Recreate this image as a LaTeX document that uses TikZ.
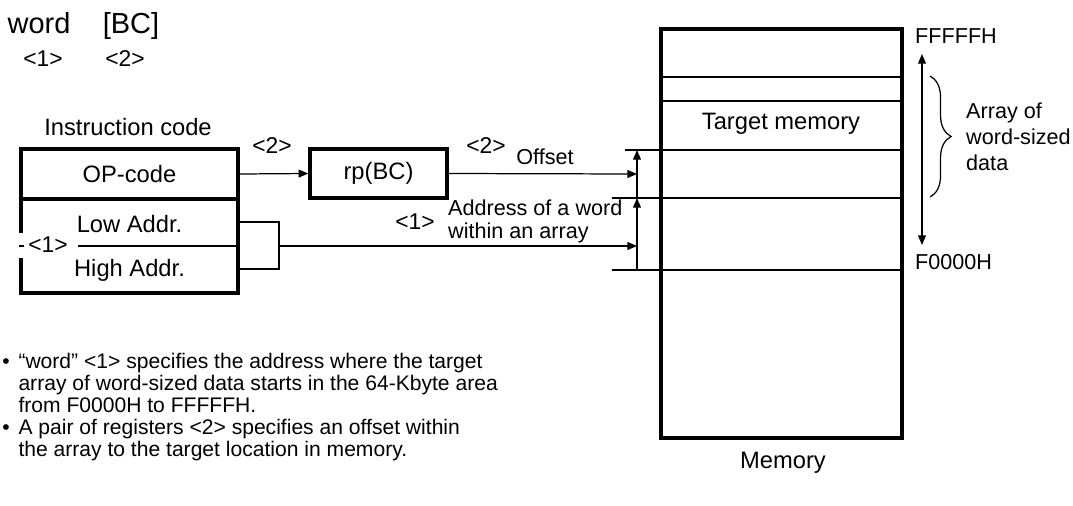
\documentclass[tikz,border=0pt]{standalone}
\usepackage{fontspec}
\setmainfont{Liberation Sans}
\usepackage{tikz}
\usetikzlibrary{arrows.meta,calc,decorations.pathreplacing}

\begin{document}
\begin{tikzpicture}[x=0.02cm,y=-0.02cm,>={Triangle[length=5.5pt,width=4.5pt]},
    bigfont/.style={font=\fontsize{16.5}{18}\selectfont},
    boxfont/.style={font=\fontsize{13.5}{15}\selectfont},
    tagfont/.style={font=\fontsize{13}{14}\selectfont},
    labfont/.style={font=\fontsize{12.3}{13.2}\selectfont},
    field/.style={draw,line width=2pt,minimum width=4.34cm,inner sep=0pt,boxfont},
    wire/.style={line width=0.7pt},
    rowline/.style={line width=1.2pt},
    boldrow/.style={line width=1.6pt}]
  \useasboundingbox (0,0) rectangle (1073,505);

  \node[bigfont,anchor=base] (word) at (39,33) {word};
  \node[bigfont,anchor=base] (bc) at (131,33) {[BC]};
  \node[tagfont] (tagw) at (43,59) {<1>};
  \node[tagfont] (tagbc) at (125,59) {<2>};

  \node[boxfont] (title) at (128,127) {Instruction code};
  \node[field,minimum height=1cm] (opcode) at (129.5,174) {OP-code};
  \node[field,minimum height=1.88cm] (addr) at (129.5,246) {};
  \node[boxfont] (low) at (129.5,224) {Low Addr.};
  \node[boxfont] (high) at (129.5,270) {High Addr.};
  \draw[rowline] (addr.west) -- (addr.east);
  \node[tagfont,fill=white,inner sep=0pt,minimum width=1.2cm,minimum height=0.5cm] (tag1) at (48,245) {<1>};
  \draw[rowline] (addr.west) -- ++(5,0);

  \node[field,minimum width=2.74cm,minimum height=0.98cm] (rp) at (378.5,173.5) {rp(BC)};
  \node[tagfont] (tag2a) at (272,146) {<2>};
  \draw[wire,->] (opcode.east) -- (rp.west);

  \node[draw,line width=2pt,minimum width=4.82cm,minimum height=8.18cm,inner sep=0pt] (mem) at (781.5,233.5) {};
  \node[boxfont] (memlbl) at (783,463) {Memory};
  \foreach \y in {77,101}
    \draw[rowline] (mem.west |- 0,\y) -- (mem.east |- 0,\y);
  \draw[wire] (625,150) -- (mem.east |- 0,150);
  \draw[rowline] (612,198) -- (mem.east |- 0,198);
  \draw[boldrow] (612,270) -- (mem.east |- 0,270);
  \node[boxfont] (target) at (781,124) {Target memory};

  \coordinate (offhit) at (637,174);
  \coordinate (addrhit) at (637,246);
  \coordinate (brk) at (279,246);
  \draw[wire,->] (rp.east) -- (offhit);
  \draw[rowline] (addr.east |- 0,222) -| (brk) |- (addr.east |- 0,269);
  \draw[wire,->] (brk) -- (addrhit);
  \node[tagfont] (tag2b) at (486,146) {<2>};
  \node[labfont] (offlbl) at (545,157) {Offset};
  \node[tagfont] (tag1b) at (415,222) {<1>};
  \node[labfont,align=left,anchor=west] (addrlbl) at (442,221) {Address of a word\\within an array};

  \coordinate (arrbot) at (637,270);
  \coordinate (arrmid) at (637,198);
  \coordinate (arrtop) at (637,150);
  \draw[wire,->] (arrbot) -- (arrmid);
  \draw[wire,->] (arrmid) -- (arrtop);

  \node[labfont,anchor=west] (fff) at (909,36) {FFFFFH};
  \node[labfont,anchor=west] (f000) at (909,262) {F0000H};
  \coordinate (rtop) at (922,54);
  \coordinate (rbot) at (922,245);
  \draw[wire,<->] (rtop) -- (rbot);
  \draw[wire,decorate,decoration={brace,amplitude=12pt}] (930,76) -- (930,197);
  \node[font=\fontsize{12.3}{14.8}\selectfont,align=left,anchor=west] (arrlbl) at (960,137) {Array of\\word-sized\\data};

  \node[font=\fontsize{12}{12.5}\selectfont,anchor=north west,inner sep=0pt] (notes) at (2,353) {%
    \begin{tabular}{@{}l@{\hspace{5pt}}l@{}}
      \textbullet & “word” <1> specifies the address where the target\\
      & array of word-sized data starts in the 64-Kbyte area\\
      & from F0000H to FFFFFH.\\
      \textbullet & A pair of registers <2> specifies an offset within\\
      & the array to the target location in memory.
    \end{tabular}};
\end{tikzpicture}
\end{document}
